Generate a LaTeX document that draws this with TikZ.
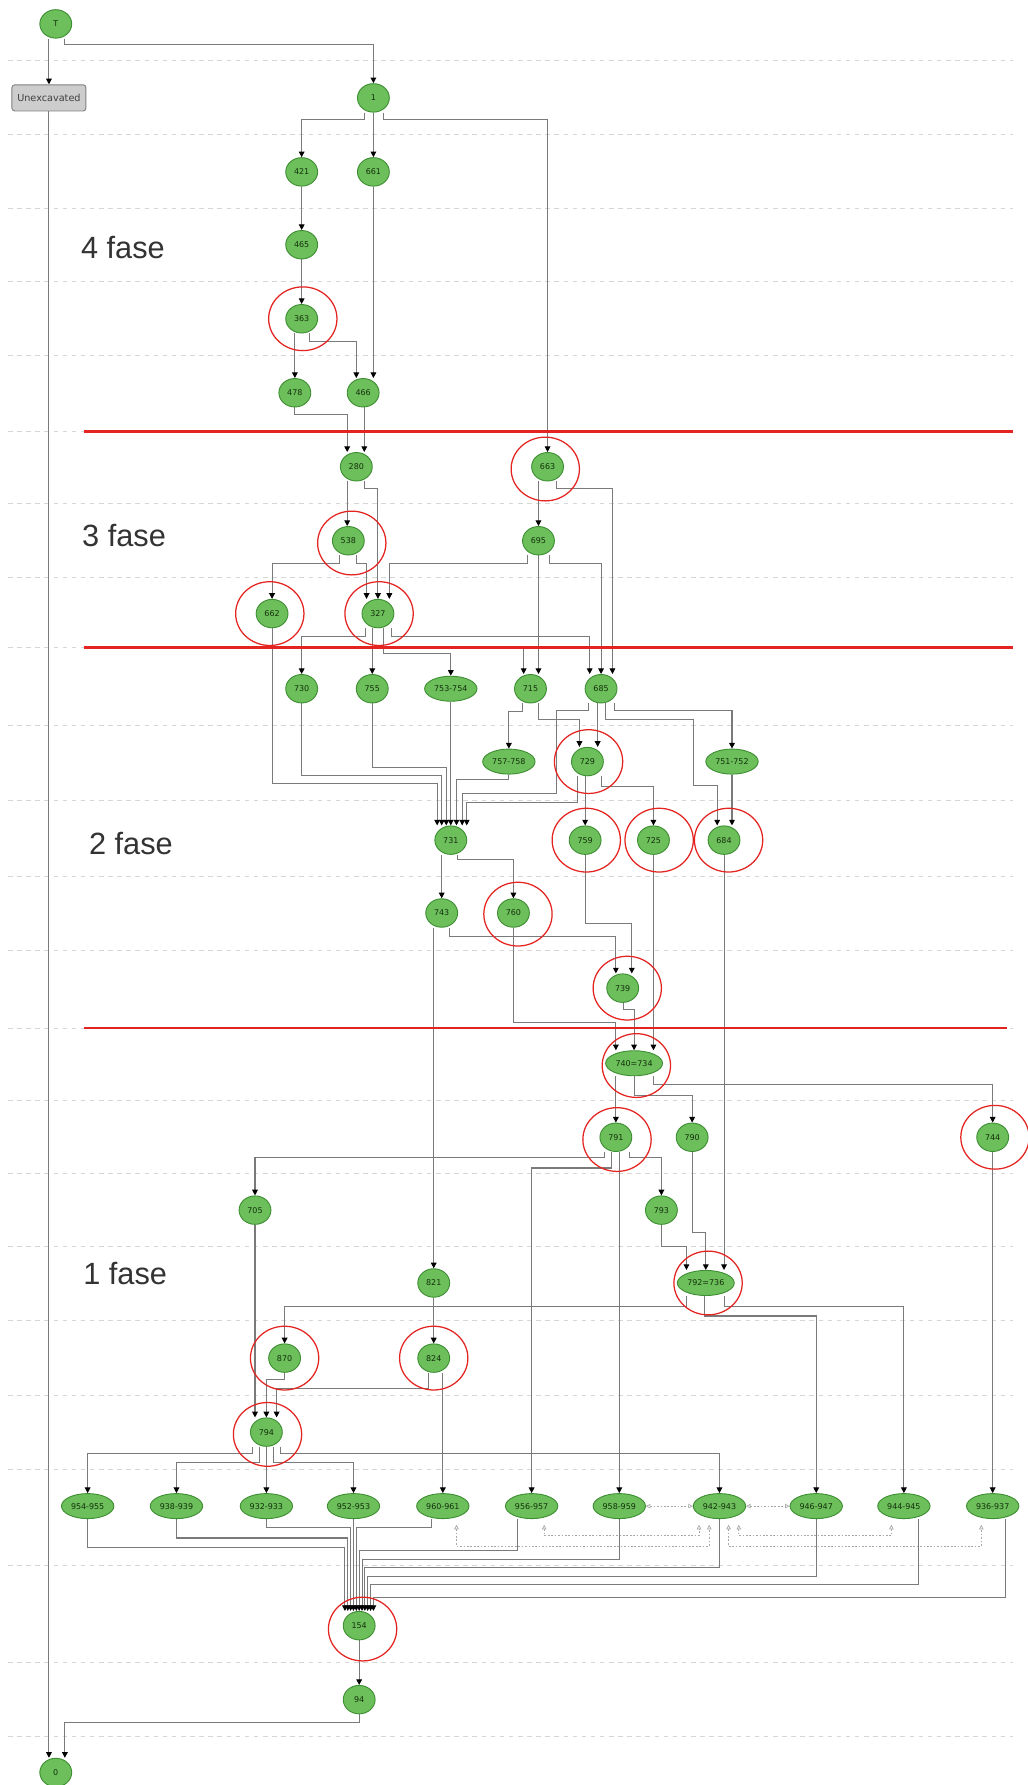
\documentclass[tikz,border=0pt]{standalone}
\usepackage{fontspec}
\setmainfont{Liberation Sans}
\newfontfamily\unitfont{DejaVu Sans}
\usetikzlibrary{shapes.geometric,arrows.meta,backgrounds}
\definecolor{unitfill}{HTML}{6CBF5A}
\definecolor{unitline}{HTML}{3E8E33}
\definecolor{unittext}{HTML}{15300E}
\definecolor{linkgray}{HTML}{7A7A7A}
\definecolor{gridgray}{HTML}{D6D6D6}
\definecolor{samegray}{HTML}{A8A8A8}
\definecolor{ringred}{HTML}{E32420}
\definecolor{boxgray}{HTML}{CDCDCD}

\begin{document}
\begin{tikzpicture}[
		x=1pt, y=-1pt,
		unit/.style={ellipse, draw=unitline, fill=unitfill, line width=0.8pt, minimum width=28pt, minimum height=25pt, inner sep=0pt, text=unittext, font=\unitfont\fontsize{7}{8}\selectfont},
		wideunit/.style={unit, minimum width=46pt, minimum height=22pt},
		equnit/.style={unit, minimum width=50pt, minimum height=22pt},
		boxunit/.style={draw=gray, fill=boxgray, rounded corners=2.5pt, line width=0.8pt, minimum width=65pt, minimum height=23pt, inner sep=0pt, text=black!75, font=\unitfont\fontsize{8.5}{9}\selectfont},
		link/.style={draw=linkgray, line width=0.9pt, arrows={-Triangle[length=5pt,width=5pt,color=black]}},
		samelink/.style={draw=samegray, line width=0.6pt, dash pattern=on 1.5pt off 1.5pt, arrows={Triangle[open,length=4pt,width=4pt]-Triangle[open,length=4pt,width=4pt]}},
		gridline/.style={draw=gridgray, line width=0.8pt, dash pattern=on 4pt off 4pt},
		phaseline/.style={draw=ringred, line width=2.4pt},
		redring/.style={draw=ringred, line width=1.1pt},
		phaselabel/.style={anchor=west, inner sep=0pt, text=black!80, font=\fontsize{27}{30}\selectfont}
		]
		\useasboundingbox (0,0) rectangle (903,1568);
		
		% units
		\node[unit] (nT) at (49,21) {T};
		\node[boxunit] (nU) at (43,86) {Unexcavated};
		\node[unit] (n1) at (328,86) {1};
		\node[unit] (n421) at (265,151) {421};
		\node[unit] (n661) at (328,151) {661};
		\node[unit] (n465) at (265,215) {465};
		\node[unit] (n363) at (265,280) {363};
		\node[unit] (n478) at (259,345) {478};
		\node[unit] (n466) at (319,345) {466};
		\node[unit] (n280) at (313,410) {280};
		\node[unit] (n663) at (481,410) {663};
		\node[unit] (n538) at (306,475) {538};
		\node[unit] (n695) at (473,475) {695};
		\node[unit] (n662) at (239,539) {662};
		\node[unit] (n327) at (332,539) {327};
		\node[unit] (n730) at (265,605) {730};
		\node[unit] (n755) at (327,605) {755};
		\node[wideunit] (n753) at (396,605) {753-754};
		\node[unit] (n715) at (466,605) {715};
		\node[unit] (n685) at (528,605) {685};
		\node[wideunit] (n757) at (447,669) {757-758};
		\node[unit] (n729) at (516,669) {729};
		\node[wideunit] (n751) at (643,669) {751-752};
		\node[unit] (n731) at (396,738) {731};
		\node[unit] (n759) at (514,738) {759};
		\node[unit] (n725) at (574,738) {725};
		\node[unit] (n684) at (636,738) {684};
		\node[unit] (n743) at (388,802) {743};
		\node[unit] (n760) at (451,802) {760};
		\node[unit] (n739) at (547,868) {739};
		\node[equnit] (n740) at (557,934) {740=734};
		\node[unit] (n791) at (541,999) {791};
		\node[unit] (n790) at (608,999) {790};
		\node[unit] (n744) at (872,999) {744};
		\node[unit] (n705) at (224,1063) {705};
		\node[unit] (n793) at (581,1063) {793};
		\node[unit] (n821) at (381,1127) {821};
		\node[equnit] (n792) at (620,1127) {792=736};
		\node[unit] (n870) at (250,1193) {870};
		\node[unit] (n824) at (381,1193) {824};
		\node[unit] (n794) at (234,1258) {794};
		\foreach \id/\lbl/\x in {954/954-955/77, 938/938-939/155, 932/932-933/234, 952/952-953/310.5, 960/960-961/389, 956/956-957/467, 958/958-959/544, 942/942-943/632, 946/946-947/717, 944/944-945/794, 936/936-937/872} {
			\node[wideunit] (n\id) at (\x,1323) {\lbl};
		}
		\node[unit] (n154) at (315.5,1428) {154};
		\node[unit] (n94) at (315.5,1493) {94};
		\node[unit] (n0) at (49,1557) {0};
		
		\begin{scope}[on background layer]
			\fill[white] (0,0) rectangle (903,1568);
			\foreach \y in {53.5,118,183,247.5,312.5,379,442.5,507,569,637,703.5,770,835,903,966.5,1031,1095,1160,1225.5,1290.5,1375.5,1460.5,1525} {
				\draw[gridline] (7,\y) -- (890,\y);
			}
			
			% top part
			\draw[link] ([xshift=-6pt]nT.south) -- (nU.north);
			\draw[link] ([xshift=8pt]nT.south) |- (328,39.5) -- (n1.north);
			\draw[link] (nU.south) -- ([xshift=-6pt]n0.north);
			\draw[link] ([xshift=-8pt]n1.south) |- (265,105) -- (n421.north);
			\draw[link] (n1.south) -- (n661.north);
			\draw[link] ([xshift=9pt]n1.south) |- (481,105) -- (n663.north);
			\draw[link] (n421.south) -- (n465.north);
			\draw[link] (n661.south) -- ([xshift=9pt]n466.north);
			\draw[link] (n465.south) -- (n363.north);
			\draw[link] ([xshift=-6pt]n363.south) -- (n478.north);
			\draw[link] ([xshift=7pt]n363.south) |- (313,300) -- ([xshift=-6pt]n466.north);
			\draw[link] (n478.south) |- (305,364.5) -- ([xshift=-8pt]n280.north);
			\draw[link] ([xshift=1pt]n466.south) -- ([xshift=7pt]n280.north);
			
			% fase 3
			\draw[link] ([xshift=-8pt]n280.south) -- ([xshift=-1pt]n538.north);
			\draw[link] ([xshift=7pt]n280.south) |- (332,429) -- (n327.north);
			\draw[link] ([xshift=-8pt]n663.south) -- (n695.north);
			\draw[link] ([xshift=8pt]n663.south) |- (538,429) -- ([xshift=10pt]n685.north);
			\draw[link] ([xshift=-8pt]n538.south) |- (239,495) -- (n662.north);
			\draw[link] ([xshift=7pt]n538.south) |- (322,495) -- ([xshift=-10pt]n327.north);
			\draw[link] ([xshift=-10pt]n695.south) |- (342,495) -- ([xshift=10pt]n327.north);
			\draw[link] (n695.south) -- ([xshift=7pt]n715.north);
			\draw[link] ([xshift=10pt]n695.south) |- (528,495) -- (n685.north);
			
			% fase 2
			\draw[link] (n662.south) |- (384,688) -- ([xshift=-12pt]n731.north);
			\draw[link] ([xshift=-11pt]n327.south) |- (265,559) -- (n730.north);
			\draw[link] ([xshift=-5pt]n327.south) -- (n755.north);
			\draw[link] ([xshift=5pt]n327.south) |- (460,568) -- ([xshift=-6pt]n715.north);
			\draw[link] ([xshift=5pt]n327.south) |- (396,574) -- (n753.north);
			\draw[link] ([xshift=12pt]n327.south) |- (518,559) -- ([xshift=-10pt]n685.north);
			\draw[link] (n730.south) |- (388,681) -- ([xshift=-8pt]n731.north);
			\draw[link] (n755.south) |- (392,674) -- ([xshift=-4pt]n731.north);
			\draw[link] (n753.south) -- (n731.north);
			\draw[link] ([xshift=-7pt]n715.south) |- (447,625) -- (n757.north);
			\draw[link] ([xshift=7pt]n715.south) |- (509,632) -- ([xshift=-7pt]n729.north);
			\draw[link] ([xshift=-11pt]n685.south) |- (489,624) |- (406,697) -- ([xshift=10pt]n731.north);
			\draw[link] ([xshift=-3pt]n685.south) -- ([xshift=9pt]n729.north);
			\draw[link] ([xshift=4pt]n685.south) |- (609,632) |- (630,690) -- ([xshift=-6pt]n684.north);
			\draw[link] ([xshift=12pt]n685.south) |- (643,624) -- (n751.north);
			\draw[link] (n757.south) |- (401,685) -- ([xshift=5pt]n731.north);
			\draw[link] ([xshift=-9pt]n729.south) |- (410,705) -- ([xshift=14pt]n731.north);
			\draw[link] ([xshift=-2pt]n729.south) -- (n759.north);
			\draw[link] ([xshift=12pt]n729.south) |- (574,691) -- (n725.north);
			\draw[link] (n751.south) -- ([xshift=7pt]n684.north);
			\draw[link] ([xshift=-8pt]n731.south) -- (n743.north);
			\draw[link] ([xshift=6pt]n731.south) |- (451,755) -- (n760.north);
			\draw[link] ([xshift=-7pt]n743.south) -- (n821.north);
			\draw[link] ([xshift=7pt]n743.south) |- (541,823) -- ([xshift=-6pt]n739.north);
			\draw[link] (n759.south) |- (555,811) -- ([xshift=8pt]n739.north);
			\draw[link] (n760.south) |- (541,898) -- ([xshift=-16pt]n740.north);
			\draw[link] ([xshift=1pt]n739.south) |- (557,887) -- (n740.north);
			\draw[link] (n725.south) -- ([xshift=17pt]n740.north);
			\draw[link] (n684.south) -- ([xshift=16pt]n792.north);
			
			% fase 1
			\draw[link] ([xshift=-16pt]n740.south) -- (n791.north);
			\draw[link] (n740.south) |- (608,962) -- (n790.north);
			\draw[link] ([xshift=17pt]n740.south) |- (872,953) -- (n744.north);
			\draw[link] ([xshift=-10pt]n791.south) |- (224,1017) -- (n705.north);
			\draw[link] ([xshift=-4pt]n791.south) |- (467,1026) -- (n956.north);
			\draw[link] ([xshift=3pt]n791.south) -- (n958.north);
			\draw[link] ([xshift=12pt]n791.south) |- (581,1017) -- (n793.north);
			\draw[link] (n790.south) |- (620,1083) -- (n792.north);
			\draw[link] (n793.south) |- (603,1095) -- ([xshift=-17pt]n792.north);
			\draw[link] (n744.south) -- (n936.north);
			\draw[link] ([xshift=-17pt]n792.south) |- (250,1148) -- (n870.north);
			\draw[link] ([xshift=-1pt]n792.south) |- (717,1156) -- (n946.north);
			\draw[link] ([xshift=16pt]n792.south) |- (794,1148) -- (n944.north);
			\draw[link] (n821.south) -- (n824.north);
			\draw[link] (n870.south) |- (234,1212) -- (n794.north);
			\draw[link] ([xshift=-5pt]n824.south) |- (243,1220) -- ([xshift=9pt]n794.north);
			\draw[link] ([xshift=8pt]n824.south) -- (n960.north);
			\draw[link] (n705.south) -- ([xshift=-10pt]n794.north);
			\draw[link] ([xshift=-12pt]n794.south) |- (77,1277) -- (n954.north);
			\draw[link] ([xshift=-6pt]n794.south) |- (155,1285) -- (n938.north);
			\draw[link] (n794.south) -- (n932.north);
			\draw[link] ([xshift=6pt]n794.south) |- (310.5,1285) -- (n952.north);
			\draw[link] ([xshift=12pt]n794.south) |- (632,1277) -- (n942.north);
			
			% all into 154
			\draw[link] (n954.south) |- (303,1359) -- ([xshift=-12.5pt]n154.north);
			\draw[link] (n938.south) |- (305.5,1351) -- ([xshift=-10pt]n154.north);
			\draw[link] (n932.south) |- (308,1342) -- ([xshift=-7.5pt]n154.north);
			\draw[link] (n952.south) -- ([xshift=-5pt]n154.north);
			\draw[link] ([xshift=-10pt]n960.south) |- (313,1342) -- ([xshift=-2.5pt]n154.north);
			\draw[link] ([xshift=-12pt]n956.south) |- (315.5,1362) -- (n154.north);
			\draw[link] (n958.south) |- (318,1370) -- ([xshift=2.5pt]n154.north);
			\draw[link] (n942.south) |- (320.5,1377) -- ([xshift=5pt]n154.north);
			\draw[link] (n946.south) |- (323,1385) -- ([xshift=7.5pt]n154.north);
			\draw[link] ([xshift=13pt]n944.south) |- (325.5,1392) -- ([xshift=10pt]n154.north);
			\draw[link] ([xshift=11pt]n936.south) |- (328,1403) -- ([xshift=12.5pt]n154.north);
			\draw[link] (n154.south) -- (n94.north);
			\draw[link] (n94.south) |- (57,1513) -- ([xshift=8pt]n0.north);
			
			% contemporary units
			\draw[samelink] (n958.east) -- (n942.west);
			\draw[samelink] (n942.east) -- (n946.west);
			\draw[samelink] ([xshift=11pt,yshift=-5pt]n956.south) |- (614,1349) -- ([xshift=-18pt,yshift=-5pt]n942.south);
			\draw[samelink] ([xshift=12pt,yshift=-5pt]n960.south) |- (623,1358) -- ([xshift=-9pt,yshift=-5pt]n942.south);
			\draw[samelink] ([xshift=17pt,yshift=-5pt]n942.south) |- (783,1349) -- ([xshift=-11pt,yshift=-5pt]n944.south);
			\draw[samelink] ([xshift=8pt,yshift=-5pt]n942.south) |- (862,1358) -- ([xshift=-10pt,yshift=-5pt]n936.south);
		\end{scope}
		
		% phase borders
		\draw[phaseline] (74,379) -- (890,379);
		\draw[phaseline] (74,569) -- (890,569);
		\draw[phaseline] (74,903) -- (885,903);
		
		\foreach \n/\dx/\dy in {363/1pt/0pt, 663/-2pt/-2pt, 538/3pt/-2pt, 662/-2pt/0pt, 327/1pt/0pt, 729/1pt/0pt, 759/1pt/0pt, 725/5pt/0pt, 684/4pt/0pt, 760/4pt/-1pt, 739/4pt/0pt, 740/2pt/-2pt, 791/1pt/-2pt, 744/2pt/0pt, 792/2pt/0pt, 870/0pt/0pt, 824/0pt/0pt, 794/1pt/-2pt, 154/3pt/-3pt} {
			\draw[redring] ([xshift=\dx,yshift=\dy]n\n.center) ellipse [x radius=30pt, y radius=28pt];
		}
		
		\node[phaselabel] (fase4) at (71,217) {4 fase};
		\node[phaselabel] (fase3) at (72,470) {3 fase};
		\node[phaselabel] (fase2) at (78,741) {2 fase};
		\node[phaselabel] (fase1) at (73,1119) {1 fase};
		
	\end{tikzpicture}
\end{document}
